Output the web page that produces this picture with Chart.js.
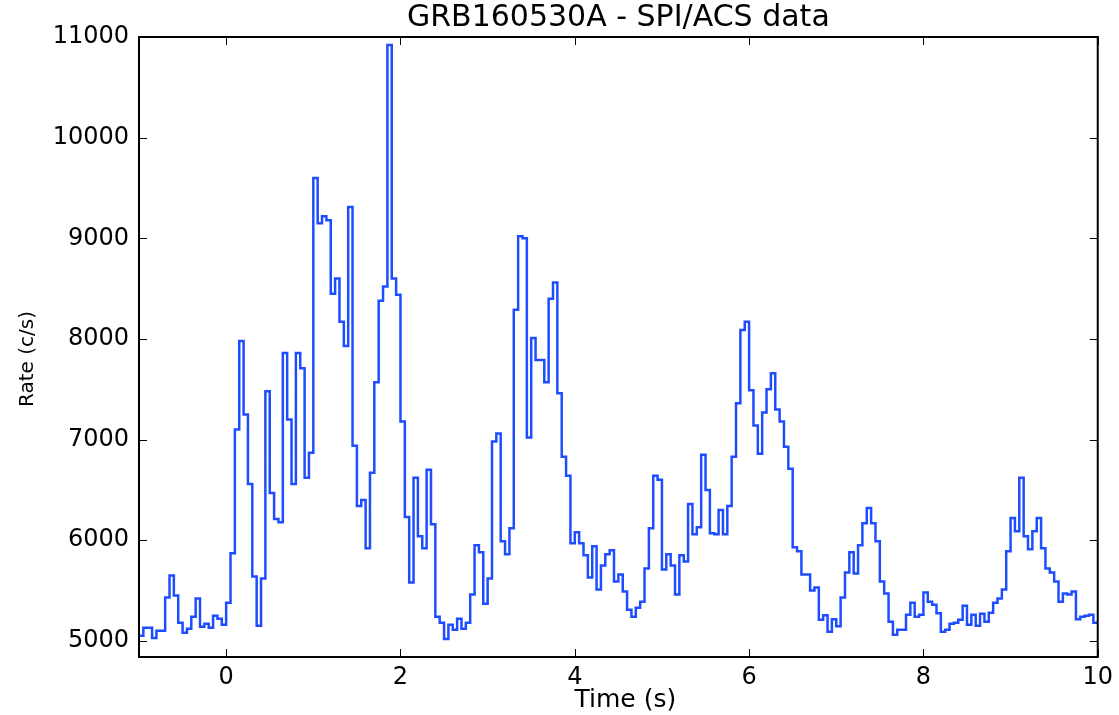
<!DOCTYPE html>
<html>
<head>
<meta charset="utf-8">
<script src="https://cdn.jsdelivr.net/npm/chart.js@4/dist/chart.umd.min.js"></script>
<style>
  html, body { margin: 0; padding: 0; background: #ffffff; }
  #wrap { width: 1119px; height: 715px; position: relative; }
</style>
</head>
<body>
<div id="wrap"><canvas id="c"></canvas></div>
<script>
// Light curve: SPI/ACS count rate in 50 ms bins starting at T0 - 1 s
const chartTitle = 'GRB160530A - SPI/ACS data';
const xLabel = 'Time (s)';
const yLabel = 'Rate (c/s)';
const binStart = -1;
const binWidth = 0.05;
const rates = [
  5050, 5130, 5130, 5030, 5100, 5100, 5430, 5650, 5450, 5180,
  5080, 5120, 5240, 5420, 5140, 5170, 5130, 5250, 5220, 5160,
  5380, 5870, 7100, 7980, 7250, 6560, 5640, 5150, 5620, 7480,
  6470, 6210, 6180, 7860, 7200, 6560, 7860, 7710, 6620, 6870,
  9600, 9150, 9220, 9180, 8450, 8600, 8170, 7930, 9310, 6940,
  6340, 6400, 5920, 6670, 7570, 8380, 8520, 10920, 8600, 8440,
  7180, 6230, 5580, 6620, 6040, 5920, 6700, 6160, 5240, 5180,
  5020, 5160, 5110, 5220, 5120, 5180, 5460, 5950, 5880, 5370,
  5620, 6980, 7060, 5990, 5860, 6120, 8290, 9020, 9000, 7020,
  8010, 7790, 7790, 7570, 8400, 8560, 7460, 6830, 6640, 5970,
  6080, 5970, 5850, 5630, 5940, 5510, 5750, 5860, 5900, 5590,
  5660, 5490, 5310, 5240, 5330, 5390, 5720, 6120, 6640, 6600,
  5710, 5860, 5750, 5460, 5850, 5790, 6360, 6060, 6130, 6850,
  6500, 6070, 6060, 6300, 6060, 6340, 6830, 7360, 8090, 8170,
  7490, 7140, 6860, 7270, 7500, 7660, 7300, 7180, 6930, 6710,
  5930, 5890, 5660, 5660, 5500, 5530, 5210, 5255, 5090, 5216,
  5145, 5430, 5680, 5880, 5670, 5950, 6170, 6320, 6170, 5990,
  5590, 5470, 5190, 5060, 5110, 5110, 5260, 5380, 5240, 5260,
  5480, 5390, 5360, 5275, 5090, 5110, 5170, 5180, 5210, 5350,
  5160, 5260, 5150, 5270, 5190, 5280, 5380, 5420, 5510, 5890,
  6220, 6090, 6620, 6040, 5910, 6090, 6220, 5920, 5720, 5680,
  5590, 5390, 5470, 5460, 5490, 5215, 5240, 5250, 5260, 5180
];
const xTicks = [0, 2, 4, 6, 8, 10];
const yTicks = [5000, 6000, 7000, 8000, 9000, 10000, 11000];
const xRange = [-1, 10];
const yRange = [4840, 11000];

const fontFamily = "'DejaVu Sans', sans-serif";

// one point per bin edge; the last edge repeats the final bin value
const points = rates.map((v, i) => ({ x: +(binStart + i * binWidth).toFixed(2), y: v }));
points.push({ x: +(binStart + rates.length * binWidth).toFixed(2), y: rates[rates.length - 1] });

// frame, inward ticks on all four sides, title and axis labels
const framePlugin = {
  id: 'frame',
  afterDraw(chart) {
    const { ctx, chartArea: a, scales: { x, y } } = chart;
    const tl = 8;
    ctx.save();
    ctx.strokeStyle = '#000';
    ctx.lineWidth = 1;
    ctx.beginPath();
    xTicks.forEach(v => {
      const px = Math.round(x.getPixelForValue(v)) + 0.5;
      ctx.moveTo(px, a.bottom); ctx.lineTo(px, a.bottom - tl);
      ctx.moveTo(px, a.top); ctx.lineTo(px, a.top + tl);
    });
    yTicks.forEach(v => {
      const py = Math.round(y.getPixelForValue(v)) + 0.5;
      ctx.moveTo(a.left, py); ctx.lineTo(a.left + tl, py);
      ctx.moveTo(a.right, py); ctx.lineTo(a.right - tl, py);
    });
    ctx.stroke();
    ctx.lineWidth = 2;
    ctx.strokeRect(a.left, a.top, a.right - a.left, a.bottom - a.top);

    ctx.fillStyle = '#000';
    ctx.textAlign = 'center';
    ctx.textBaseline = 'middle';
    ctx.font = '30px ' + fontFamily;
    ctx.fillText(chartTitle, (a.left + a.right) / 2, 18);
    ctx.font = '25px ' + fontFamily;
    ctx.fillText(xLabel, (a.left + a.right) / 2 + 7, 700);
    ctx.translate(28, (a.top + a.bottom) / 2 + 12);
    ctx.rotate(-Math.PI / 2);
    ctx.font = '20px ' + fontFamily;
    ctx.fillText(yLabel, 0, 0);
    ctx.restore();
  }
};

new Chart(document.getElementById('c'), {
  type: 'line',
  data: {
    datasets: [{
      data: points,
      borderColor: '#1d4dff',
      borderWidth: 2.5,
      pointRadius: 0,
      stepped: 'before',
      fill: false
    }]
  },
  options: {
    responsive: true,
    maintainAspectRatio: false,
    animation: false,
    devicePixelRatio: 1,
    layout: { padding: { left: 0, top: 37, right: 17, bottom: 0 } },
    plugins: { legend: { display: false }, tooltip: { enabled: false }, title: { display: false } },
    scales: {
      x: {
        type: 'linear',
        min: xRange[0],
        max: xRange[1],
        grid: { display: false, drawTicks: false },
        border: { display: false },
        ticks: {
          color: '#000',
          font: { family: fontFamily, size: 24 },
          padding: 6,
          maxRotation: 0
        },
        afterBuildTicks(scale) { scale.ticks = xTicks.map(v => ({ value: v })); },
        afterFit(scale) { scale.height = 58; }
      },
      y: {
        type: 'linear',
        min: yRange[0],
        max: yRange[1],
        grid: { display: false, drawTicks: false },
        border: { display: false },
        ticks: {
          color: '#000',
          font: { family: fontFamily, size: 24 },
          padding: 10,
          callback: v => String(v)
        },
        afterBuildTicks(scale) { scale.ticks = yTicks.map(v => ({ value: v })); },
        afterFit(scale) { scale.width = 139; }
      }
    }
  },
  plugins: [framePlugin]
});
</script>
</body>
</html>
